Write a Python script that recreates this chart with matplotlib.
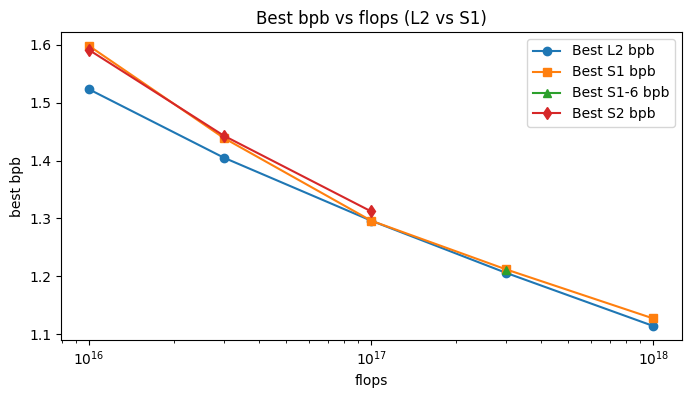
import matplotlib
matplotlib.use("Agg")
import matplotlib.pyplot as plt

flops = [1e16, 3e16, 1e17, 3e17, 1e18]
l2_bpb = [1.523, 1.405, 1.296, 1.206, 1.114]
s1_bpb = [1.598, 1.439, 1.296, 1.212, 1.127]
s16_flops = [3e17]
s16_bpb = [1.210]
s2_flops = [1e16, 3e16, 1e17]
s2_bpb = [1.591, 1.443, 1.312]

fig, ax = plt.subplots(figsize=(6.91, 3.98), dpi=100)
ax.plot(flops, l2_bpb, marker='o', label='Best L2 bpb')
ax.plot(flops, s1_bpb, marker='s', label='Best S1 bpb')
ax.plot(s16_flops, s16_bpb, marker='^', label='Best S1-6 bpb')
ax.plot(s2_flops, s2_bpb, marker='d', label='Best S2 bpb')
ax.set_xscale('log')
ax.set_xlabel('flops')
ax.set_ylabel('best bpb')
ax.set_title('Best bpb vs flops (L2 vs S1)')
ax.legend()
fig.subplots_adjust(left=0.0883, right=0.9863, top=0.9196, bottom=0.1457)
fig.savefig('out.png')
